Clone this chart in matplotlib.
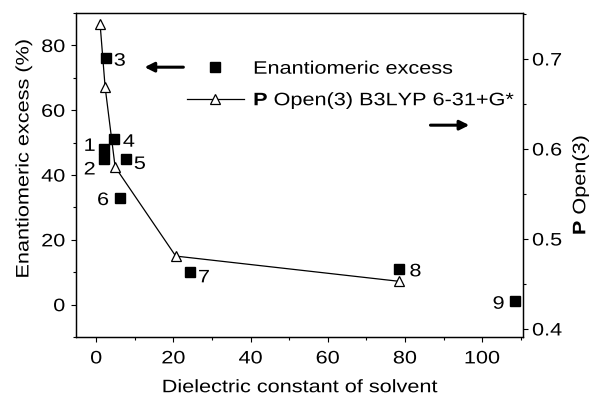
import matplotlib
matplotlib.use("Agg")
import matplotlib.pyplot as plt
from matplotlib.ticker import MultipleLocator, FormatStrFormatter
from matplotlib.lines import Line2D
from matplotlib.patheffects import AbstractPathEffect
from matplotlib.transforms import Affine2D

plt.rcParams['font.family'] = ['Liberation Sans', 'DejaVu Sans']
plt.rcParams['mathtext.fontset'] = 'custom'
plt.rcParams['mathtext.rm'] = 'Liberation Sans'
plt.rcParams['mathtext.bf'] = 'Liberation Sans:bold'
plt.rcParams['font.size'] = 13

# enantiomeric excess (squares, left axis)
ee_eps = [1.9, 1.9, 2.5, 4.5, 7.7, 6.1, 24.3, 78.4, 108.6]
ee_val = [48, 45, 76, 51, 45, 33, 10, 11, 1]
ee_lab = ["1", "2", "3", "4", "5", "6", "7", "8", "9"]
# label offsets in points
ee_off = [(-10, 2), (-10, -8), (10, -2), (11, -2), (10, -4),
          (-12, -2), (10, -4), (12, -2), (-12, -2)]

# P Open(3) B3LYP 6-31+G* (triangles, right axis)
p_eps = [1.0, 2.3, 4.9, 20.6, 78.4]
p_val = [0.739, 0.669, 0.580, 0.481, 0.453]


class Stretch(AbstractPathEffect):
    """widen text along its baseline (the original font is wider)"""
    def __init__(self, sx=1.2, anchor='center'):
        super().__init__()
        self.sx = sx
        self.anchor = anchor

    def draw_path(self, renderer, gc, tpath, affine, rgbFace=None):
        if len(tpath.vertices) == 0:
            return renderer.draw_path(gc, tpath, affine, rgbFace)
        ext = tpath.get_extents()
        x0 = {'left': ext.x0, 'center': 0.5 * (ext.x0 + ext.x1),
              'right': ext.x1}[self.anchor]
        pre = Affine2D().translate(-x0, 0).scale(self.sx, 1).translate(x0, 0)
        renderer.draw_path(gc, tpath, pre + affine, rgbFace)


def stretch(texts, anchor='center'):
    for t in texts:
        t.set_path_effects([Stretch(1.2, anchor)])


fig, ax = plt.subplots(figsize=(5.95, 4.02), dpi=100)
fig.subplots_adjust(left=0.128, right=0.879, bottom=0.159, top=0.965)
ax2 = ax.twinx()

ax.plot(ee_eps, ee_val, ls='none', marker='s', ms=7.2, color='k', zorder=3)
nums = []
for x, y, t, off in zip(ee_eps, ee_val, ee_lab, ee_off):
    nums.append(ax.annotate(t, (x, y), xytext=off, textcoords='offset points',
                            ha='center', va='center'))

ax2.plot(p_eps, p_val, color='k', lw=0.9, marker='^', ms=7.5,
         mfc='white', mec='k', mew=0.9)

ax.set_xlim(-5.2, 110.6)
ax.set_ylim(-10, 90)
ax2.set_ylim(0.391, 0.751)

ax.xaxis.set_major_locator(MultipleLocator(20))
ax.xaxis.set_minor_locator(MultipleLocator(10))
ax.yaxis.set_major_locator(MultipleLocator(20))
ax.yaxis.set_minor_locator(MultipleLocator(10))
ax2.yaxis.set_major_locator(MultipleLocator(0.1))
ax2.yaxis.set_minor_locator(MultipleLocator(0.05))
ax2.yaxis.set_major_formatter(FormatStrFormatter('%.1f'))

for a in (ax, ax2):
    a.tick_params(which='major', direction='out', length=3.6, width=0.8)
    a.tick_params(which='minor', direction='out', length=2.0, width=0.8)
    for s in a.spines.values():
        s.set_linewidth(0.9)
ax.tick_params(axis='both', which='both', top=False, right=False)
ax.tick_params(axis='x', which='major', pad=6)
ax.tick_params(axis='y', which='major', pad=4.3)
ax2.tick_params(axis='y', which='major', pad=3)

ax.set_xlabel("Dielectric constant of solvent", labelpad=8.5)
ax.set_ylabel("Enantiomeric excess (%)", labelpad=9)
ax2.set_ylabel(r"$\mathbf{P}$ Open(3)", labelpad=9.4)
ax.yaxis.label.set_y(0.55)
ax2.yaxis.label.set_y(0.47)

# legend
handles = [Line2D([], [], ls='none', marker='s', ms=7.2, color='k'),
           Line2D([], [], color='k', lw=0.9, marker='^', ms=7.5,
                  mfc='white', mec='k', mew=0.9)]
labels = ["Enantiomeric excess", r"$\mathbf{P}$ Open(3) B3LYP 6-31+G*"]
leg = ax.legend(handles, labels, loc='upper left',
                bbox_to_anchor=(0.247, 0.853), frameon=False, borderpad=0,
                handlelength=3.2, handletextpad=0.5, labelspacing=0.7,
                borderaxespad=0)

# arrows pointing to the axes
ax.annotate("", xy=(11.8, 73.3), xytext=(23.3, 73.3),
            arrowprops=dict(arrowstyle='-|>', lw=2.2, color='k',
                            mutation_scale=14))
ax.annotate("", xy=(97.4, 55.4), xytext=(85.9, 55.4),
            arrowprops=dict(arrowstyle='-|>', lw=2.2, color='k',
                            mutation_scale=14))

fig.canvas.draw()
stretch(ax.get_xticklabels(), 'center')
stretch(ax.get_yticklabels(), 'right')
stretch(ax2.get_yticklabels(), 'left')
stretch([ax.xaxis.label, ax.yaxis.label, ax2.yaxis.label], 'center')
stretch(leg.get_texts(), 'left')
stretch(nums, 'center')

fig.savefig("out.png", dpi=100)
